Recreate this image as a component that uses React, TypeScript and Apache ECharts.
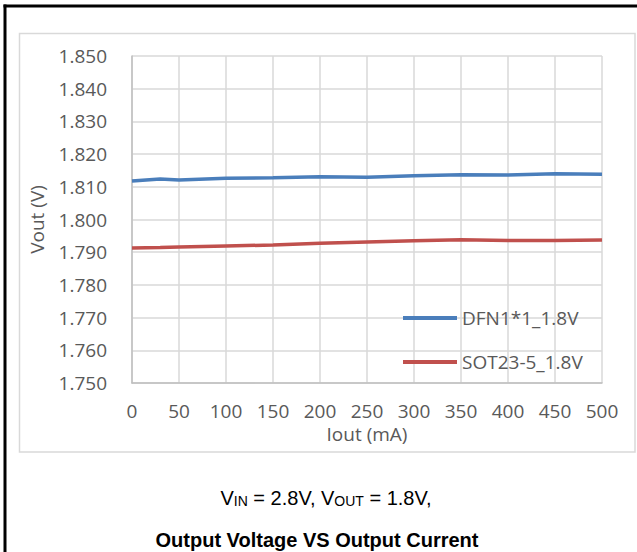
import React, { useEffect, useRef } from "react";
import * as echarts from "echarts";

const currents = [0, 30, 50, 100, 150, 200, 250, 300, 350, 400, 450, 500];
const dfnValues = [1.8118, 1.8124, 1.8121, 1.8126, 1.8128, 1.8131, 1.8129, 1.8134, 1.8137, 1.8136, 1.814, 1.8138];
const sotValues = [1.7913, 1.7914, 1.7916, 1.7919, 1.7922, 1.7927, 1.7931, 1.7935, 1.7938, 1.7936, 1.7936, 1.7937];
const seriesNames = ["DFN1*1_1.8V", "SOT23-5_1.8V"];
const seriesColors = ["#4a7ebb", "#c0504d"];
const xAxisTitle = "Iout (mA)";
const yAxisTitle = "Vout (V)";
const captionTitle = "Output Voltage VS Output Current";

const FONT = "'Open Sans', 'Noto Sans', sans-serif";
const CAP_FONT = "'Liberation Sans', Arial, sans-serif";

export default function App() {
  const ref = useRef<HTMLDivElement>(null);
  useEffect(() => {
    document.body.style.margin = "0";
    if (!ref.current) return;
    const chart = echarts.init(ref.current, null, { renderer: "svg" });
    const toPairs = (vals: number[]) => currents.map((c, i) => [c, vals[i]]);
    chart.setOption({
      animation: false,
      backgroundColor: "#ffffff",
      grid: { left: 132, right: 35, top: 56, bottom: 169, containLabel: false },
      legend: {
        orient: "vertical",
        left: 403,
        top: 308,
        padding: 0,
        itemWidth: 54,
        itemHeight: 4,
        itemGap: 24,
        icon: "rect",
        data: seriesNames,
        textStyle: { fontFamily: FONT, fontSize: 19, color: "#595959", lineHeight: 20 },
      },
      xAxis: {
        type: "value",
        min: 0,
        max: 500,
        interval: 50,
        name: xAxisTitle,
        nameLocation: "middle",
        nameGap: 40,
        nameTextStyle: { fontFamily: FONT, fontSize: 19, color: "#595959" },
        axisLine: { show: true, lineStyle: { color: "#bfbfbf", width: 1.5 } },
        axisTick: { show: false },
        axisLabel: { fontFamily: FONT, fontSize: 19, color: "#595959", margin: 18 },
        splitLine: { show: true, lineStyle: { color: "#d9d9d9", width: 1.5 } },
      },
      yAxis: {
        type: "value",
        min: 1.75,
        max: 1.85,
        interval: 0.01,
        name: yAxisTitle,
        nameLocation: "middle",
        nameGap: 86,
        nameTextStyle: { fontFamily: FONT, fontSize: 19, color: "#595959" },
        axisLine: { show: true, lineStyle: { color: "#bfbfbf", width: 1.5 } },
        axisTick: { show: false },
        axisLabel: {
          fontFamily: FONT,
          fontSize: 19,
          color: "#595959",
          margin: 25,
          formatter: (v: number) => v.toFixed(3),
        },
        splitLine: { show: true, lineStyle: { color: "#d9d9d9", width: 1.5 } },
      },
      series: [
        {
          name: seriesNames[0],
          type: "line",
          data: toPairs(dfnValues),
          showSymbol: false,
          color: seriesColors[0],
          lineStyle: { width: 3.5, color: seriesColors[0] },
        },
        {
          name: seriesNames[1],
          type: "line",
          data: toPairs(sotValues),
          showSymbol: false,
          color: seriesColors[1],
          lineStyle: { width: 3.5, color: seriesColors[1] },
        },
      ],
      graphic: [
        {
          type: "rect",
          shape: { x: 19.5, y: 33.5, width: 615.5, height: 418.5 },
          style: { fill: "none", stroke: "#d9d9d9", lineWidth: 1.5 },
          z: -1,
          silent: true,
        },
        {
          type: "line",
          shape: { x1: 3.5, y1: 6, x2: 637, y2: 6 },
          style: { stroke: "#000000", lineWidth: 3 },
          silent: true,
        },
        {
          type: "line",
          shape: { x1: 5, y1: 4.5, x2: 5, y2: 552 },
          style: { stroke: "#000000", lineWidth: 3 },
          silent: true,
        },
        {
          type: "text",
          x: 326,
          y: 497,
          style: {
            text: "{b|V}{s|IN}{b| = 2.8V, V}{s|OUT}{b| = 1.8V,}",
            align: "center",
            verticalAlign: "middle",
            rich: {
              b: { fontFamily: CAP_FONT, fontSize: 20, fill: "#000000", verticalAlign: "bottom", lineHeight: 22 },
              s: { fontFamily: CAP_FONT, fontSize: 14, fill: "#000000", verticalAlign: "bottom", lineHeight: 22 },
            },
          },
          silent: true,
        },
        {
          type: "text",
          x: 317,
          y: 540,
          style: {
            text: captionTitle,
            align: "center",
            verticalAlign: "middle",
            fontFamily: CAP_FONT,
            fontSize: 20,
            fontWeight: "bold",
            fill: "#000000",
          },
          silent: true,
        },
      ],
    });
    return () => chart.dispose();
  }, []);
  return <div ref={ref} style={{ width: 637, height: 552 }} />;
}
